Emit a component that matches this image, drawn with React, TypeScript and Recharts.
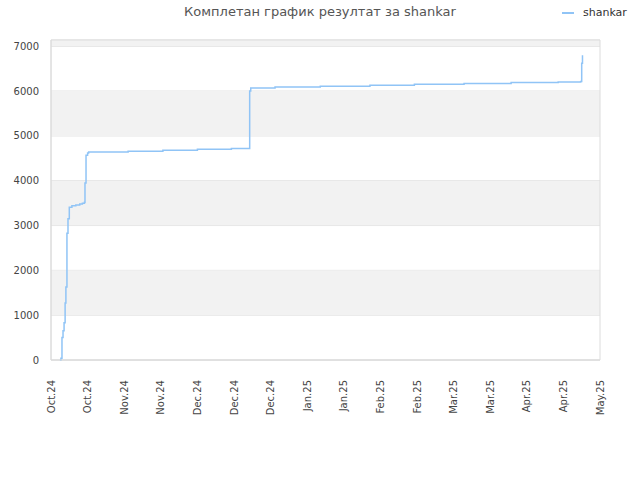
import React from "react";
import { CartesianGrid, Line, LineChart, ReferenceArea, XAxis, YAxis } from "recharts";

// days counted from 6 Oct 2024
const days = [
  3.4, 3.8, 4.2, 4.6, 5.0, 5.4, 5.7, 6.1, 6.5, 7.0, 8.0, 9.5, 11.0, 12.0, 12.8, 13.0, 13.4, 14.0,
  14.4, 29.5, 42.8, 56.0, 69.0, 76.0, 76.4, 85.7, 103.0, 122.0, 139.0, 158.0, 176.0, 194.0,
  202.6, 203.0, 203.3
];
const scores = [
  0, 40, 500, 650, 830, 1270, 1630, 2830, 3150, 3410, 3440, 3460, 3480, 3500, 3520, 3950, 4570, 4620,
  4640, 4660, 4680, 4700, 4720, 6000, 6070, 6090, 6110, 6130, 6150, 6170, 6190, 6205,
  6215, 6620, 6800
];

const xTicks = [0, 14, 28, 42, 56, 70, 84, 98, 112, 126, 140, 154, 168, 182, 196, 210];
const xLabels = [
  "Oct.24", "Oct.24", "Nov.24", "Nov.24", "Dec.24", "Dec.24", "Dec.24", "Jan.25", "Jan.25",
  "Feb.25", "Feb.25", "Mar.25", "Mar.25", "Apr.25", "Apr.25", "May.25"
];
const yTicks = [0, 1000, 2000, 3000, 4000, 5000, 6000, 7000];
const grayBands = [
  [1000, 2000],
  [3000, 4000],
  [5000, 6000],
  [7000, 7140]
];

const data = days.map((d, i) => ({ day: d, score: scores[i] }));

const font = "'DejaVu Sans', sans-serif";
const lineColor = "#90c4f6";

function XTick({ x, y, payload }: any) {
  const idx = xTicks.indexOf(payload.value);
  return (
    <g transform={`translate(${x},${y + 12})`}>
      <text
        transform="rotate(-90)"
        textAnchor="end"
        dy="0.35em"
        fontSize={10}
        fontFamily={font}
        fill="#444"
      >
        {xLabels[idx]}
      </text>
    </g>
  );
}

export default function App() {
  return (
    <div style={{ position: "absolute", left: 0, top: 0, width: 640, height: 480, background: "#fff" }}>
      <div
        style={{
          position: "absolute",
          top: 4,
          left: 0,
          width: 640,
          textAlign: "center",
          fontFamily: font,
          fontSize: 13,
          color: "#555"
        }}
      >
        Комплетан график резултат за shankar
      </div>
      <div
        style={{
          position: "absolute",
          top: 6,
          left: 562,
          display: "flex",
          alignItems: "center",
          fontFamily: font,
          fontSize: 11,
          color: "#333"
        }}
      >
        <span style={{ display: "inline-block", width: 12, height: 2, background: lineColor, marginRight: 9 }} />
        shankar
      </div>
      <LineChart
        width={640}
        height={480}
        data={data}
        margin={{ top: 40, right: 40, bottom: 0, left: 0 }}
      >
        {grayBands.map(([a, b], i) => (
          <ReferenceArea key={i} y1={a} y2={b} fill="#f2f2f2" fillOpacity={1} stroke="none" />
        ))}
        <CartesianGrid vertical={false} stroke="#dedede" />
        <ReferenceArea x1={0} x2={210} y1={0} y2={7140} fill="none" stroke="#dcdcdc" />
        <XAxis
          dataKey="day"
          type="number"
          domain={[0, 210]}
          ticks={xTicks}
          height={120}
          tickLine={false}
          axisLine={{ stroke: "#dcdcdc" }}
          tick={<XTick />}
          interval={0}
        />
        <YAxis
          type="number"
          domain={[0, 7140]}
          ticks={yTicks}
          width={51}
          tickLine={false}
          tickSize={0}
          tickMargin={12}
          axisLine={{ stroke: "#dcdcdc" }}
          tick={{ fontSize: 10, fontFamily: font, fill: "#444" }}
          interval={0}
        />
        <Line
          dataKey="score"
          type="stepAfter"
          stroke={lineColor}
          strokeWidth={1.5}
          dot={false}
          isAnimationActive={false}
        />
      </LineChart>
    </div>
  );
}
